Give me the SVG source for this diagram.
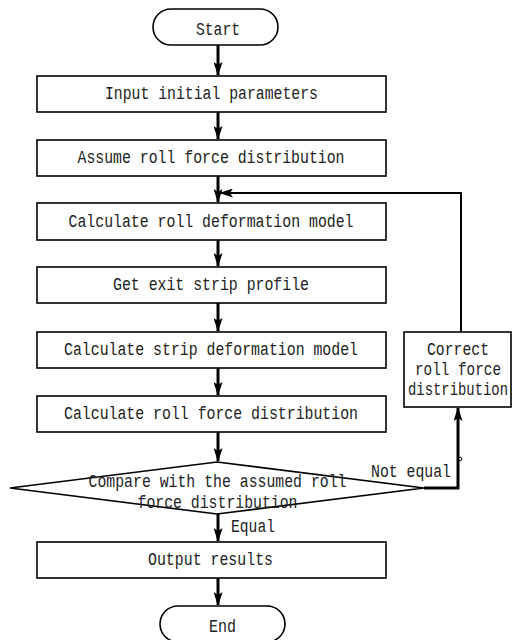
<svg xmlns="http://www.w3.org/2000/svg" width="512" height="640" viewBox="0 0 512 640">
<style>
.box{fill:#fff;stroke:#000;stroke-width:1.6}
.t{font-family:"Liberation Mono","DejaVu Sans Mono",monospace;font-size:18px;fill:#222;text-anchor:middle}
.tl{font-family:"Liberation Mono","DejaVu Sans Mono",monospace;font-size:18px;fill:#222;text-anchor:start}
.c{fill:none;stroke:#000;stroke-width:3}
.thin{fill:none;stroke:#000;stroke-width:2}
</style>
<defs>
<marker id="ah" markerUnits="userSpaceOnUse" markerWidth="14" markerHeight="9" refX="13" refY="4.5" orient="auto">
<path d="M0,0 L14,4.5 L0,9 L3,4.5 z" fill="#000"/>
</marker>
</defs>
<rect width="512" height="640" fill="#fff"/>
<g id="connectors">
<line class="c" x1="218" y1="45" x2="218" y2="75" marker-end="url(#ah)"/>
<line class="c" x1="218" y1="112" x2="218" y2="139" marker-end="url(#ah)"/>
<line class="c" x1="218" y1="176" x2="218" y2="202" marker-end="url(#ah)"/>
<line class="c" x1="218" y1="240" x2="218" y2="266" marker-end="url(#ah)"/>
<line class="c" x1="218" y1="303" x2="218" y2="331" marker-end="url(#ah)"/>
<line class="c" x1="218" y1="368" x2="218" y2="395" marker-end="url(#ah)"/>
<line class="c" x1="218" y1="432" x2="218" y2="461" marker-end="url(#ah)"/>
<line class="c" x1="218" y1="514" x2="218" y2="541" marker-end="url(#ah)"/>
<line class="c" x1="218" y1="578" x2="218" y2="605" marker-end="url(#ah)"/>
<polyline class="c" points="424,488 458,488 458,408" marker-end="url(#ah)"/>
<polyline class="thin" points="461,332 461,193 220,193" marker-end="url(#ah)"/>
<circle cx="460" cy="459" r="1.8" fill="none" stroke="#000" stroke-width="1"/>
</g>
<g id="start">
<rect class="box" x="153" y="9" width="125" height="36" rx="18"/>
<text class="t" x="218" y="35" textLength="44" lengthAdjust="spacingAndGlyphs">Start</text>
</g>
<g id="input">
<rect class="box" x="37" y="76" width="349" height="36"/>
<text class="t" x="211.5" y="99" textLength="213" lengthAdjust="spacingAndGlyphs">Input initial parameters</text>
</g>
<g id="assume">
<rect class="box" x="37" y="140" width="349" height="36"/>
<text class="t" x="211" y="163" textLength="267" lengthAdjust="spacingAndGlyphs">Assume roll force distribution</text>
</g>
<g id="rolldef">
<rect class="box" x="37" y="203" width="349" height="37"/>
<text class="t" x="211" y="227" textLength="285" lengthAdjust="spacingAndGlyphs">Calculate roll deformation model</text>
</g>
<g id="exit">
<rect class="box" x="37" y="267" width="349" height="36"/>
<text class="t" x="211" y="290" textLength="196" lengthAdjust="spacingAndGlyphs">Get exit strip profile</text>
</g>
<g id="stripdef">
<rect class="box" x="37" y="332" width="349" height="36"/>
<text class="t" x="211" y="355" textLength="294" lengthAdjust="spacingAndGlyphs">Calculate strip deformation model</text>
</g>
<g id="rollforce">
<rect class="box" x="37" y="396" width="349" height="36"/>
<text class="t" x="211" y="419" textLength="294" lengthAdjust="spacingAndGlyphs">Calculate roll force distribution</text>
</g>
<g id="compare">
<polygon class="box" points="217,462 424,488 217,514 10,488"/>
<text class="t" x="217.5" y="487" textLength="258" lengthAdjust="spacingAndGlyphs">Compare with the assumed roll</text>
<text class="t" x="217.5" y="508" textLength="160" lengthAdjust="spacingAndGlyphs">force distribution</text>
</g>
<g id="output">
<rect class="box" x="37" y="542" width="349" height="36"/>
<text class="t" x="210.5" y="565" textLength="125" lengthAdjust="spacingAndGlyphs">Output results</text>
</g>
<g id="end">
<rect class="box" x="160" y="606" width="125" height="36" rx="18"/>
<text class="t" x="222.5" y="632" textLength="27" lengthAdjust="spacingAndGlyphs">End</text>
</g>
<g id="correct">
<rect class="box" x="404" y="332" width="107" height="75"/>
<text class="t" x="458" y="355" textLength="62" lengthAdjust="spacingAndGlyphs">Correct</text>
<text class="t" x="458" y="375" textLength="86" lengthAdjust="spacingAndGlyphs">roll force</text>
<text class="t" x="458" y="395" textLength="100" lengthAdjust="spacingAndGlyphs">distribution</text>
</g>
<g id="labels">
<text class="tl" x="231" y="532" textLength="44" lengthAdjust="spacingAndGlyphs">Equal</text>
<text class="tl" x="371" y="477" textLength="80" lengthAdjust="spacingAndGlyphs">Not equal</text>
</g>
</svg>
